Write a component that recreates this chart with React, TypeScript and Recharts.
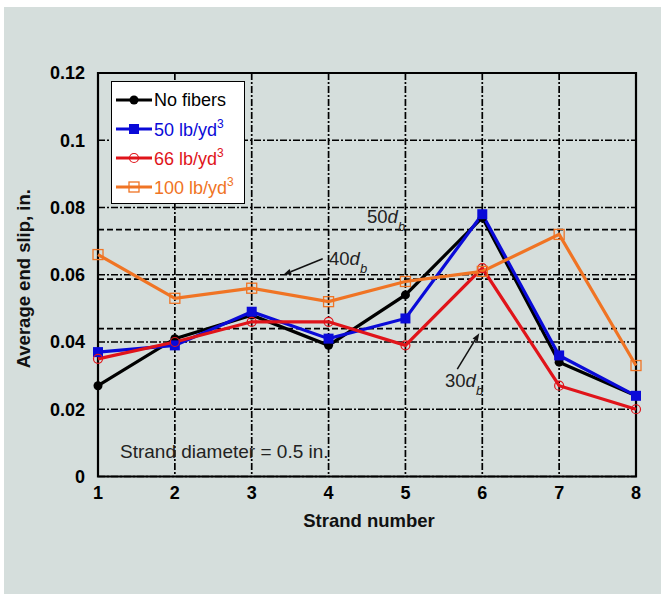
import React from "react";
import {
    LineChart,
    Line,
    XAxis,
    YAxis,
    CartesianGrid,
    ReferenceLine,
    ReferenceArea,
    Legend,
    Label,
} from "recharts";

const strands = [1, 2, 3, 4, 5, 6, 7, 8];
const noFibers = [0.027, 0.041, 0.048, 0.039, 0.054, 0.077, 0.034, 0.024];
const fibers50 = [0.037, 0.039, 0.049, 0.041, 0.047, 0.078, 0.036, 0.024];
const fibers66 = [0.035, 0.04, 0.046, 0.046, 0.039, 0.062, 0.027, 0.02];
const fibers100 = [0.066, 0.053, 0.056, 0.052, 0.058, 0.061, 0.072, 0.033];

const yTicks = [0, 0.02, 0.04, 0.06, 0.08, 0.1, 0.12];
const minorTicks = Array.from({ length: 25 }, (_, i) => Math.round(i * 5) / 1000);

// slip limits for 30, 40 and 50 strand diameters
const devLimits = [
    { n: 30, slip: 0.044 },
    { n: 40, slip: 0.0587 },
    { n: 50, slip: 0.0734 },
];

const data = strands.map((s, i) => ({
    strand: s,
    none: noFibers[i],
    f50: fibers50[i],
    f66: fibers66[i],
    f100: fibers100[i],
}));

const FONT = "'Liberation Sans', Arial, sans-serif";

const series = [
    { key: "none", name: "No fibers", unit: false, color: "#000000", marker: "circle", filled: true },
    { key: "f50", name: "50 lb/yd", unit: true, color: "#0a0ad8", marker: "square", filled: true },
    { key: "f66", name: "66 lb/yd", unit: true, color: "#e0141a", marker: "circle", filled: false },
    { key: "f100", name: "100 lb/yd", unit: true, color: "#f07424", marker: "square", filled: false },
];

const Marker = ({ cx, cy, color, marker, filled }: any) => {
    if (cx == null || cy == null) return null;
    if (marker === "square") {
        return (
            <rect
                x={cx - 5}
                y={cy - 5}
                width={10}
                height={10}
                fill={filled ? color : "none"}
                stroke={color}
                strokeWidth={filled ? 0 : 1.3}
            />
        );
    }
    return (
        <circle
            cx={cx}
            cy={cy}
            r={4.5}
            fill={filled ? color : "none"}
            stroke={color}
            strokeWidth={filled ? 0 : 1.2}
        />
    );
};

const LegendBox = () => (
    <div
        style={{
            border: "1.5px solid #000",
            background: "#fff",
            width: 128,
            padding: "3px 0 2px 4px",
            fontFamily: FONT,
            fontSize: 18,
        }}
    >
        {series.map((s) => (
            <div key={s.key} style={{ display: "flex", alignItems: "center", height: 29 }}>
                <svg width={36} height={14} style={{ flex: "none" }}>
                    <line x1={0} y1={7} x2={36} y2={7} stroke={s.color} strokeWidth={3} />
                    <Marker cx={18} cy={7} {...s} />
                </svg>
                <span style={{ color: s.color, marginLeft: 2, whiteSpace: "nowrap", lineHeight: 1 }}>
                    {s.name}
                    {s.unit && <sup style={{ fontSize: 12, verticalAlign: 8 }}>3</sup>}
                </span>
            </div>
        ))}
    </div>
);

// arrow with a filled head at (x2, y2)
const Arrow = ({ x1, y1, x2, y2 }: any) => {
    const a = Math.atan2(y2 - y1, x2 - x1);
    const len = 8;
    const w = 3;
    const bx = x2 - len * Math.cos(a);
    const by = y2 - len * Math.sin(a);
    const px = -Math.sin(a) * w;
    const py = Math.cos(a) * w;
    return (
        <g>
            <line x1={x1} y1={y1} x2={bx} y2={by} stroke="#111" strokeWidth={1.5} />
            <polygon points={`${x2},${y2} ${bx + px},${by + py} ${bx - px},${by - py}`} fill="#111" />
        </g>
    );
};

// offsets (px) of each note from the left end of its limit line
const notePos: Record<number, any> = {
    50: { dx: 269, dy: -7 },
    40: { dx: 231, dy: -14.5, arrow: [224.7, -20.4, 185.3, -4.4] },
    30: { dx: 347, dy: 58.5, arrow: [359.3, 40.6, 381.3, 4.6] },
};

const LimitNote = ({ viewBox, n }: any) => {
    if (!viewBox) return null;
    const { x, y } = viewBox;
    const p = notePos[n];
    return (
        <g>
            <text x={x + p.dx} y={y + p.dy} fontFamily={FONT} fontSize={18.5} fill="#222">
                {n}
                <tspan fontStyle="italic">d</tspan>
                <tspan fontStyle="italic" fontSize={13} dy={8}>
                    b
                </tspan>
            </text>
            {p.arrow && (
                <Arrow x1={x + p.arrow[0]} y1={y + p.arrow[1]} x2={x + p.arrow[2]} y2={y + p.arrow[3]} />
            )}
        </g>
    );
};

const SlipChart = () => (
    <LineChart
        width={661}
        height={594}
        data={data}
        margin={{ top: 73, right: 25, bottom: 87.5, left: 0 }}
    >
        <CartesianGrid stroke="#000" strokeWidth={1.7} strokeDasharray="7 2 2 2" />
        <XAxis
            dataKey="strand"
            type="number"
            domain={[1, 8]}
            ticks={strands}
            axisLine={false}
            tickLine={false}
            tickSize={0}
            tickMargin={10}
            height={30}
            tick={{ fill: "#000", fontSize: 18, fontWeight: "bold", fontFamily: FONT }}
        >
            <Label
                content={({ viewBox }: any) => (
                    <text
                        x={viewBox.x + viewBox.width / 2 + 2}
                        y={viewBox.y + 50.5}
                        textAnchor="middle"
                        fontFamily={FONT}
                        fontSize={18.5}
                        fontWeight="bold"
                        fill="#111"
                    >
                        Strand number
                    </text>
                )}
            />
        </XAxis>
        <YAxis
            type="number"
            domain={[0, 0.12]}
            ticks={yTicks}
            width={98}
            axisLine={false}
            tickLine={false}
            tickSize={0}
            tickMargin={13}
            tick={{ fill: "#000", fontSize: 18, fontWeight: "bold", fontFamily: FONT }}
        >
            <Label
                content={({ viewBox }: any) => {
                    const cy = viewBox.y + viewBox.height / 2 + 4;
                    return (
                        <text
                            x={30}
                            y={cy}
                            transform={`rotate(-90 30 ${cy})`}
                            textAnchor="middle"
                            fontFamily={FONT}
                            fontSize={18.5}
                            fontWeight="bold"
                            fill="#111"
                        >
                            Average end slip, in.
                        </text>
                    );
                }}
            />
        </YAxis>
        <YAxis
            yAxisId="minorL"
            orientation="left"
            mirror
            type="number"
            domain={[0, 0.12]}
            ticks={minorTicks}
            axisLine={false}
            tick={false}
            tickSize={5}
            tickLine={{ stroke: "#000", strokeWidth: 1.5 }}
        />
        <YAxis
            yAxisId="minorR"
            orientation="right"
            mirror
            type="number"
            domain={[0, 0.12]}
            ticks={minorTicks}
            axisLine={false}
            tick={false}
            tickSize={5}
            tickLine={{ stroke: "#000", strokeWidth: 1.5 }}
        />
        {devLimits.map((d) => (
            <ReferenceLine
                key={d.n}
                y={d.slip}
                stroke="#000"
                strokeWidth={1.8}
                strokeDasharray="6 3"
                label={<LimitNote n={d.n} />}
            />
        ))}
        <ReferenceArea
            x1={1}
            x2={8}
            y1={0}
            y2={0.12}
            fill="none"
            fillOpacity={0}
            stroke="#000"
            strokeWidth={2.2}
            label={({ viewBox }: any) => (
                <text
                    x={viewBox.x + 22}
                    y={viewBox.y + viewBox.height - 18.5}
                    fontFamily={FONT}
                    fontSize={19}
                    fill="#222"
                >
                    Strand diameter = 0.5 in.
                </text>
            )}
        />
        {series.map((s) => (
            <Line
                key={s.key}
                type="linear"
                dataKey={s.key}
                name={s.name}
                stroke={s.color}
                strokeWidth={3.2}
                isAnimationActive={false}
                activeDot={false}
                dot={(p: any) => <Marker key={`${s.key}-${p.index}`} cx={p.cx} cy={p.cy} {...s} />}
            />
        ))}
        <Legend
            layout="vertical"
            align="center"
            verticalAlign="middle"
            wrapperStyle={{ left: 111, top: 81, width: "auto" }}
            content={() => <LegendBox />}
        />
    </LineChart>
);

export default function App() {
    return (
        <div style={{ position: "absolute", left: 0, top: 0, width: 661, height: 594, background: "#fff" }}>
            <div style={{ position: "absolute", left: 4, top: 7, right: 0, bottom: 0, background: "#d5dedc" }} />
            <div style={{ position: "absolute", left: 0, top: 0 }}>
                <SlipChart />
            </div>
        </div>
    );
}
